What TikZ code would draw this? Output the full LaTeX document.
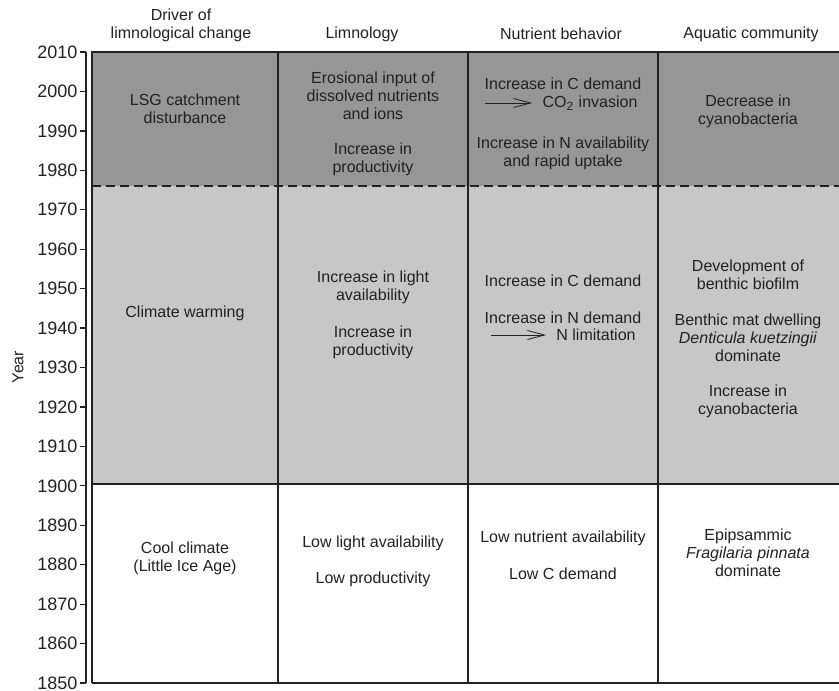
\documentclass[tikz,border=0pt]{standalone}
\usepackage{fontspec}
\setmainfont{Liberation Sans}
\usetikzlibrary{arrows.meta}
\definecolor{recent}{gray}{0.59}
\definecolor{warm}{gray}{0.78}
\definecolor{ink}{gray}{0.13}
\newcommand{\yrpos}[1]{52+(2010-#1)*3.944}

\begin{document}
\begin{tikzpicture}[x=0.5pt,y=-0.5pt,
  cell/.style={text=ink,align=center,font=\fontsize{8}{9}\selectfont,inner sep=0pt},
  yrlabel/.style={text=ink,font=\fontsize{9}{10}\selectfont,inner sep=0pt,anchor=east},
  rule/.style={draw=ink,line width=0.65pt},
  leadsto/.style={ink,line width=0.4pt,-{Straight Barb[length=8.5pt,width=4.5pt]},shorten >=5pt}]

\useasboundingbox (0,0) rectangle (839,690);

% periods
\fill[recent] (92,52) rectangle (839,186);
\fill[warm] (92,186) rectangle (839,484);
\draw[rule] (92,683) -- (92,52) -- (839,52);
\draw[rule] (92,683) -- (839,683);
\draw[rule] (92,484) -- (839,484);
\draw[rule,dash pattern=on 4.5pt off 2.5pt] (92,186) -- (839,186);
\foreach \x in {278,468,658}
\draw[rule] (\x,52) -- (\x,683);

% year axis
\draw[rule] (86,52) -- (86,683);
\foreach \yr in {1850,1860,...,2010}
\draw[rule] (80,{\yrpos{\yr}}) -- (86,{\yrpos{\yr}}) node[yrlabel,xshift=-4pt] (y\yr) {\yr};
\node[cell,rotate=90] (yearlbl) at (18,367) {Year};

% column heads
\node[cell] (hdriver) at (181,25) {Driver of\\limnological change};
\node[cell] (hlimno) at (362,34) {Limnology};
\node[cell] (hnutr) at (561,34) {Nutrient behavior};
\node[cell] (haqua) at (751,34) {Aquatic community};

% since 1976
\node[cell] (lsg) at (185,109) {LSG catchment\\disturbance};
\node[cell] (erosion) at (373,96) {Erosional input of\\dissolved nutrients\\and ions};
\node[cell] (prodA) at (373,159) {Increase in\\productivity};
\node[cell] (cdemA) at (563,84) {Increase in C demand};
\node[cell] (co2) at (590,103) {CO\textsubscript{2} invasion};
\coordinate (arrA) at (485,103);
\draw[leadsto] (arrA) -- (co2.west);
\node[cell] (navail) at (563,153) {Increase in N availability\\and rapid uptake};
\node[cell] (cyanoA) at (748,111) {Decrease in\\cyanobacteria};

% 1900 to 1976
\node[cell] (warming) at (185,313) {Climate warming};
\node[cell] (light) at (373,287) {Increase in light\\availability};
\node[cell] (prodB) at (373,342) {Increase in\\productivity};
\node[cell] (cdemB) at (563,281) {Increase in C demand};
\node[cell] (ndem) at (563,318) {Increase in N demand};
\node[cell] (nlim) at (596,335) {N limitation};
\coordinate (arrB) at (491,335);
\draw[leadsto] (arrB) -- (nlim.west);
\node[cell] (biofilm) at (748,275) {Development of\\benthic biofilm};
\node[cell] (denticula) at (748,338) {Benthic mat dwelling\\\textit{Denticula kuetzingii}\\dominate};
\node[cell] (cyanoB) at (748,401) {Increase in\\cyanobacteria};

% before 1900
\node[cell] (cool) at (185,558) {Cool climate\\(Little Ice Age)};
\node[cell] (lowlight) at (373,543) {Low light availability};
\node[cell] (lowprod) at (373,579) {Low productivity};
\node[cell] (lownutr) at (563,538) {Low nutrient availability};
\node[cell] (lowc) at (563,574) {Low C demand};
\node[cell] (fragilaria) at (748,553) {Epipsammic\\\textit{Fragilaria pinnata}\\dominate};
\end{tikzpicture}
\end{document}
